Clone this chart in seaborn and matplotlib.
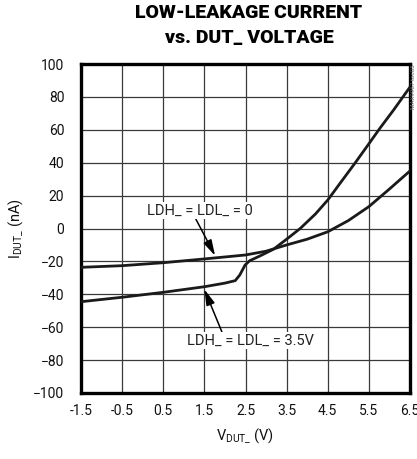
import matplotlib
matplotlib.use("Agg")
import matplotlib.pyplot as plt
import seaborn as sns
import pandas as pd

# Leakage current vs. DUT voltage, two driver settings
v_ldl0 = [-1.5, -0.5, 0.5, 1.5, 2.5, 3.0, 3.5, 4.0, 4.5, 5.0, 5.5, 6.0, 6.5]
i_ldl0 = [-23.6, -22.6, -20.8, -18.5, -16.1, -13.8, -10.0, -6.5, -2.0, 4.8, 13.3, 24.0, 35.0]

v_ldl35 = [-1.5, -0.5, 0.5, 1.5, 2.0, 2.25, 2.36, 2.49, 2.6, 2.85, 3.18, 3.5,
           3.83, 4.2, 4.5, 4.8, 5.17, 5.5, 5.77, 6.1, 6.5]
i_ldl35 = [-44.5, -41.8, -38.8, -35.4, -33.2, -31.7, -28.3, -22.2, -19.6, -16.7,
           -12.6, -6.5, 0.0, 8.8, 17.3, 27.5, 40.0, 51.5, 61.0, 72.0, 86.0]

x_ticks = [-1.5, -0.5, 0.5, 1.5, 2.5, 3.5, 4.5, 5.5, 6.5]
x_ticklabels = ["-1.5", "-0.5", "0.5", "1.5", "2.5", "3.5", "4.5", "5.5", "6.5"]
y_ticks = [-100, -80, -60, -40, -20, 0, 20, 40, 60, 80, 100]

df = pd.concat([
    pd.DataFrame({"v": v_ldl0, "i": i_ldl0, "setting": "LDH_ = LDL_ = 0"}),
    pd.DataFrame({"v": v_ldl35, "i": i_ldl35, "setting": "LDH_ = LDL_ = 3.5V"}),
])

sns.set_theme(style="white")
plt.rcParams["font.family"] = ["Roboto", "DejaVu Sans"]

fig = plt.figure(figsize=(4.17, 4.59), dpi=100)
ax = fig.add_axes([81 / 417, 1 - 393 / 459, 329 / 417, 329 / 459])

sns.lineplot(data=df, x="v", y="i", hue="setting", palette=["#1a1a1a", "#1a1a1a"],
             linewidth=2.0, legend=False, ax=ax, zorder=3, sort=False)

ax.set_xlim(-1.5, 6.5)
ax.set_ylim(-100, 100)
ax.set_xticks(x_ticks)
ax.set_xticklabels(x_ticklabels)
ax.set_yticks(y_ticks)
ax.grid(True, color="#3a3a3a", linewidth=0.9)
ax.tick_params(axis="both", length=0, labelsize=10, colors="#111111")
ax.tick_params(axis="x", pad=8)
ax.tick_params(axis="y", pad=12)
for s in ax.spines.values():
    s.set_visible(True)
    s.set_color("black")
    s.set_linewidth(2.4)

ax.set_xlabel(r"V$_{\mathregular{DUT\_}}$ (V)", fontsize=10.5, labelpad=6, color="#111111")
ax.set_ylabel(r"I$_{\mathregular{DUT\_}}$ (nA)", fontsize=10.5, labelpad=5, color="#111111")

fig.text(0.597, 0.991, "LOW-LEAKAGE CURRENT\nvs. DUT_ VOLTAGE", ha="center", va="top",
         fontsize=14, fontweight="black", linespacing=1.5, color="black")

arrow = dict(arrowstyle="-|>,head_length=0.9,head_width=0.25", color="black",
             lw=1.1, shrinkA=0, shrinkB=0)
ax.annotate("LDH_ = LDL_ = 0", xy=(1.76, -16.5), xytext=(1.4, 11),
            ha="center", va="center", fontsize=10.5, color="#222222",
            bbox=dict(boxstyle="square,pad=0.1", fc="white", ec="none"),
            arrowprops=dict(arrow, relpos=(0.45, 0.0)), zorder=4)
ax.annotate("LDH_ = LDL_ = 3.5V", xy=(1.5, -37.0), xytext=(2.62, -68),
            ha="center", va="center", fontsize=10.5, color="#222222",
            bbox=dict(boxstyle="square,pad=0.1", fc="white", ec="none"),
            arrowprops=dict(arrow, relpos=(0.28, 1.0)), zorder=4)

fig.text(0.991, 0.86, "MAX9967 toc05", rotation=90, ha="center", va="top",
         fontsize=4.5, color="#666666")

fig.savefig("out.png", dpi=100)
